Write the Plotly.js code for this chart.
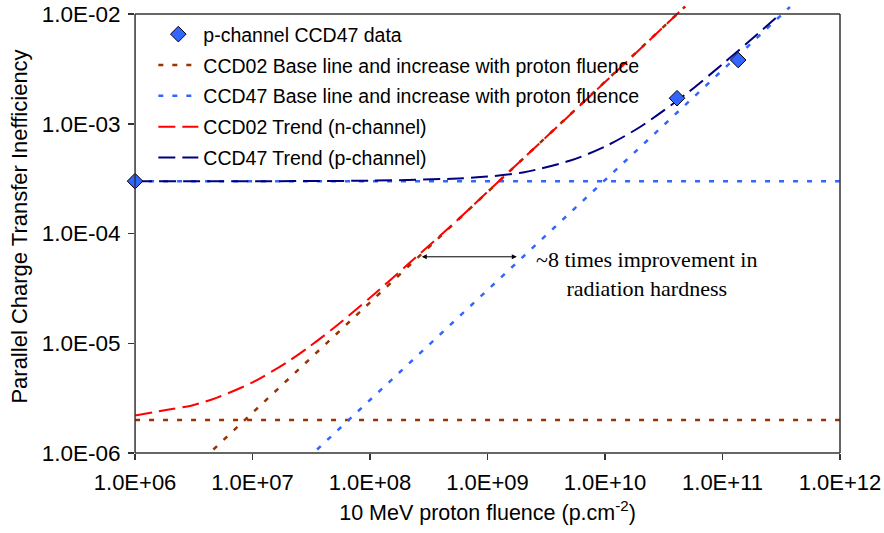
<!DOCTYPE html>
<html>
<head>
<meta charset="utf-8">
<script src="https://cdn.plot.ly/plotly-3.0.1.min.js"></script>
<style>html,body{margin:0;padding:0;background:#fff;}#chart{width:884px;height:533px;}</style>
</head>
<body>
<div id="chart"></div>
<script>
// ---- data ----
var dataFluence = [1.0e6, 4.1e10, 1.36e11];
var dataCTI     = [3.0e-4, 1.71e-3, 3.81e-3];

var ccd02BaseX = [1e6, 1e12];
var ccd02BaseY = [2.0e-6, 2.0e-6];
var ccd02IncX  = [3.8e6, 4.8e10];
var ccd02IncY  = [8.8e-7, 1.17e-2];

var ccd47BaseX = [1e6, 1e12];
var ccd47BaseY = [3.0e-4, 3.0e-4];
var ccd47IncX  = [2.9e7, 3.75e11];
var ccd47IncY  = [8.8e-7, 1.16e-2];

var ccd02TrendX = [1e6, 2e6, 3e6, 5e6, 1e7, 2e7, 3e7, 5e7, 1e8, 2e8, 5e8, 1e9, 1e10, 4.8e10];
var ccd02TrendY = [2.2e-6, 2.5e-6, 2.7e-6, 3.2e-6, 4.4e-6, 6.8e-6, 9.2e-6, 1.4e-5, 2.6e-5, 5.0e-5, 1.2e-4, 2.4e-4, 2.4e-3, 1.17e-2];

var ccd47TrendX = [1e6, 1e8, 5e8, 1e9, 2e9, 5e9, 1e10, 2e10, 5e10, 1e11, 2e11, 3.1e11];
var ccd47TrendY = [3.0e-4, 3.03e-4, 3.16e-4, 3.3e-4, 3.6e-4, 4.6e-4, 6.2e-4, 9.4e-4, 1.9e-3, 3.5e-3, 6.6e-3, 1.0e-2];

var xTickVals = [1e6, 1e7, 1e8, 1e9, 1e10, 1e11, 1e12];
var xTickText = ["1.0E+06", "1.0E+07", "1.0E+08", "1.0E+09", "1.0E+10", "1.0E+11", "1.0E+12"];
var yTickVals = [1e-6, 1e-5, 1e-4, 1e-3, 1e-2];
var yTickText = ["1.0E-06", "1.0E-05", "1.0E-04", "1.0E-03", "1.0E-02"];

var names = [
  "p-channel CCD47 data",
  "CCD02 Base line and increase with proton fluence",
  "CCD47 Base line and increase with proton fluence",
  "CCD02 Trend (n-channel)",
  "CCD47 Trend (p-channel)"
];
var annoText = "~8 times improvement in<br>radiation hardness";

// ---- styling ----
var BROWN = "#993300", LBLUE = "#3366FF", RED = "#FF0000", NAVY = "#000080";
var dotted = "5px,9px", dashed = "17px,7px";

var traces = [
  {x: ccd02BaseX, y: ccd02BaseY, mode: "lines", name: names[1], legendgroup: "g2", legendrank: 2,
   line: {color: BROWN, width: 2.5, dash: dotted}},
  {x: ccd02IncX, y: ccd02IncY, mode: "lines", name: names[1], legendgroup: "g2", showlegend: false,
   line: {color: BROWN, width: 2.5, dash: dotted}},
  {x: ccd47BaseX, y: ccd47BaseY, mode: "lines", name: names[2], legendgroup: "g3", legendrank: 3,
   line: {color: LBLUE, width: 2.5, dash: dotted}},
  {x: ccd47IncX, y: ccd47IncY, mode: "lines", name: names[2], legendgroup: "g3", showlegend: false,
   line: {color: LBLUE, width: 2.5, dash: dotted}},
  {x: ccd02TrendX, y: ccd02TrendY, mode: "lines", name: names[3], legendgroup: "g4", legendrank: 4,
   line: {color: RED, width: 2, dash: dashed, shape: "spline", smoothing: 0.8}},
  {x: ccd47TrendX, y: ccd47TrendY, mode: "lines", name: names[4], legendgroup: "g5", legendrank: 5,
   line: {color: NAVY, width: 2, dash: dashed, shape: "spline", smoothing: 0.8}},
  {x: dataFluence, y: dataCTI, mode: "markers", name: names[0], legendgroup: "g1", legendrank: 1,
   cliponaxis: false,
   marker: {symbol: "diamond", size: 12, color: LBLUE, line: {color: "#000", width: 1}}}
];

var xr0 = 5.9995, xr1 = 12;
var yr0 = -6, yr1 = -1.872;
var yTopPaper = (-2 - yr0) / (yr1 - yr0);
var xLeftPaper = (6 - xr0) / (xr1 - xr0);
var FRAME = "#333333";

var layout = {
  width: 884, height: 533,
  margin: {l: 135, r: 44, t: 0, b: 80},
  paper_bgcolor: "#fff", plot_bgcolor: "#fff",
  font: {family: "Liberation Sans, Arial, sans-serif", color: "#000"},
  showlegend: true,
  legend: {
    x: 0.026, y: 0.967, xanchor: "left", yanchor: "top",
    bgcolor: "rgba(0,0,0,0)", borderwidth: 0,
    font: {size: 19.5, family: "Liberation Sans, Arial, sans-serif", color: "#000"},
    traceorder: "grouped", tracegroupgap: 2.5, itemwidth: 40
  },
  xaxis: {
    type: "log", range: [xr0, xr1], showgrid: false, zeroline: false, showline: false,
    tickmode: "array", tickvals: xTickVals, ticktext: xTickText,
    ticks: "outside", ticklen: 6, tickwidth: 1.5, tickcolor: FRAME,
    ticklabelstandoff: 4,
    tickfont: {size: 22, color: "#000"},
    title: {text: "10 MeV proton fluence (p.cm<sup>-2</sup>)", font: {size: 21.5, color: "#000"}, standoff: 10}
  },
  yaxis: {
    type: "log", range: [yr0, yr1], showgrid: false, zeroline: false, showline: false,
    tickmode: "array", tickvals: yTickVals, ticktext: yTickText,
    ticks: "outside", ticklen: 6, tickwidth: 1.5, tickcolor: FRAME,
    ticklabelstandoff: 3,
    tickfont: {size: 22.5, color: "#000"},
    title: {text: "Parallel Charge Transfer Inefficiency", font: {size: 22, color: "#000"}, standoff: 7}
  },
  shapes: [
    {type: "line", xref: "paper", yref: "paper", x0: xLeftPaper, x1: xLeftPaper, y0: 0, y1: yTopPaper, line: {color: FRAME, width: 1.5}},
    {type: "line", xref: "paper", yref: "paper", x0: xLeftPaper, x1: 1, y0: 0, y1: 0, line: {color: FRAME, width: 1.5}},
    {type: "line", xref: "paper", yref: "paper", x0: xLeftPaper, x1: 1, y0: yTopPaper, y1: yTopPaper, line: {color: FRAME, width: 1.5}},
    {type: "line", xref: "paper", yref: "paper", x0: 1, x1: 1, y0: 0, y1: yTopPaper, line: {color: FRAME, width: 1.5}}
  ],
  annotations: [
    {xref: "x", yref: "y", x: 8.44, y: -4.212, axref: "x", ayref: "y", ax: 9.262, ay: -4.212,
     text: "", showarrow: true, arrowside: "end+start", arrowhead: 2, startarrowhead: 2,
     arrowsize: 1, startarrowsize: 1, arrowwidth: 1, arrowcolor: "#000"},
    {xref: "x", yref: "y", x: 10.349, y: -4.37, text: annoText, showarrow: false,
     font: {family: "Liberation Serif, Times New Roman, serif", size: 22, color: "#000"}, align: "center"}
  ]
};

Plotly.newPlot("chart", traces, layout, {displayModeBar: false, staticPlot: true});
</script>
</body>
</html>
